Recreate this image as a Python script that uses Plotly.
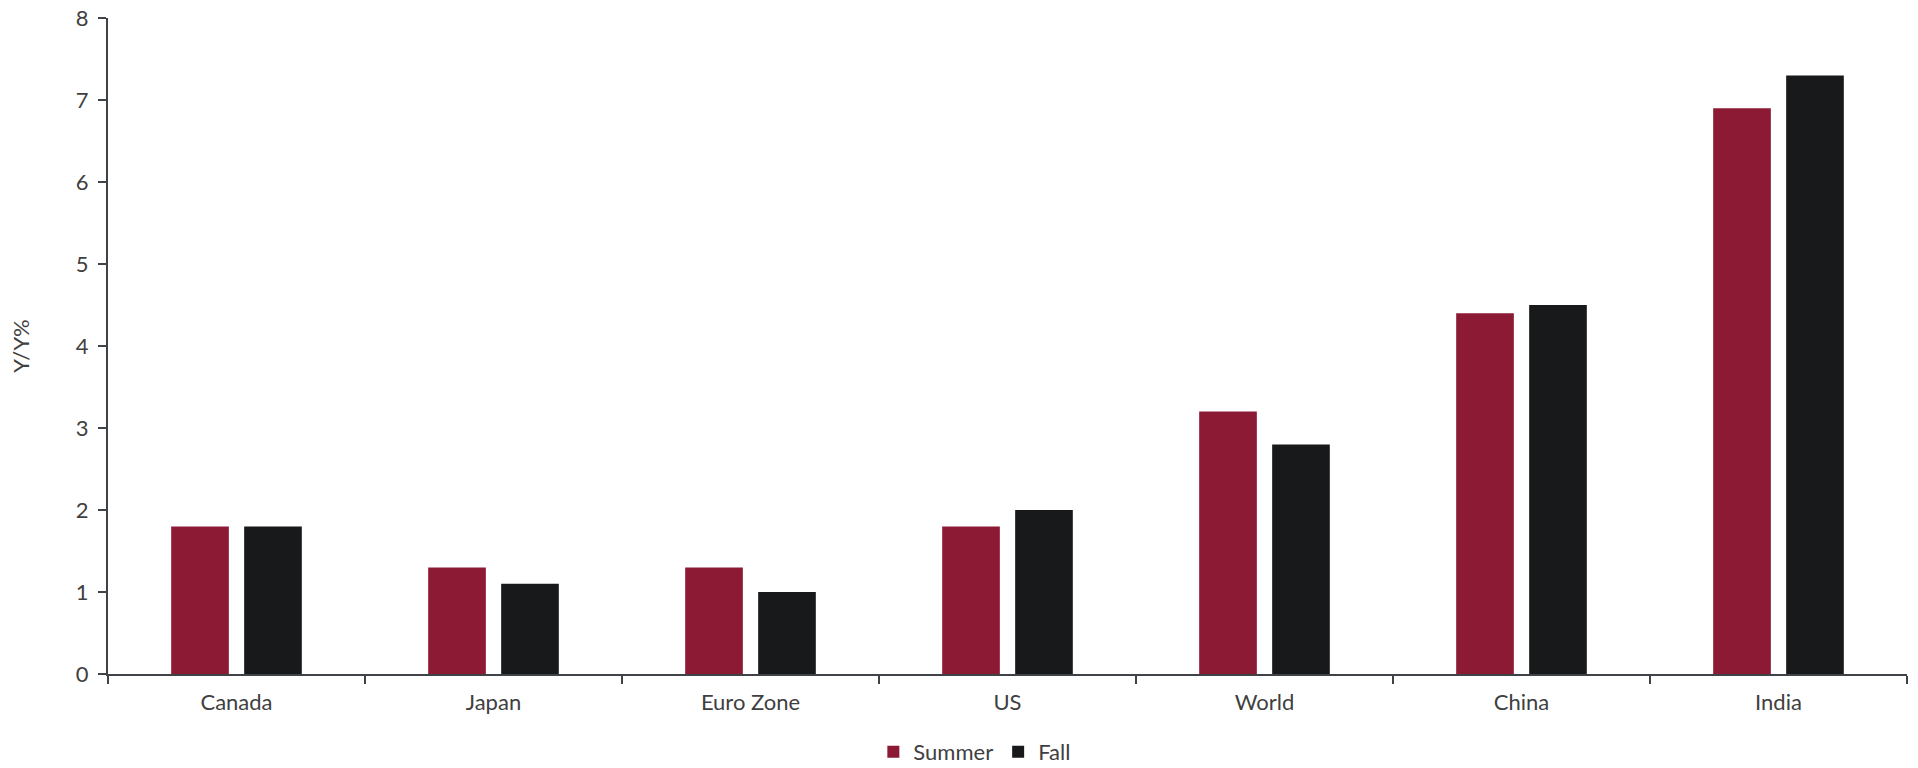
import plotly.graph_objects as go

# Real GDP growth forecasts by region
regions = ["Canada", "Japan", "Euro Zone", "US", "World", "China", "India"]
summer = [1.8, 1.3, 1.3, 1.8, 3.2, 4.4, 6.9]
fall = [1.8, 1.1, 1.0, 2.0, 2.8, 4.5, 7.3]
y_ticks = [0, 1, 2, 3, 4, 5, 6, 7, 8]

RED = "#8C1A34"
BLACK = "#18191B"
AXIS = "#3F4246"
TEXT = "#404040"
FONT = "Lato, 'Open Sans', sans-serif"

fig = go.Figure()
fig.add_trace(go.Bar(x=regions, y=summer, name="Summer", marker=dict(color=RED, line=dict(width=0))))
fig.add_trace(go.Bar(x=regions, y=fall, name="Fall", marker=dict(color=BLACK, line=dict(width=0))))

fig.update_layout(
    width=1918,
    height=768,
    margin=dict(l=108, r=11, t=18, b=94, autoexpand=False),
    paper_bgcolor="white",
    plot_bgcolor="white",
    barmode="group",
    bargap=0.432,
    bargroupgap=0.21,
    font=dict(family=FONT, size=22, color=TEXT),
    showlegend=True,
    legend=dict(
        orientation="h",
        x=0.508,
        xanchor="center",
        xref="container",
        y=0.021,
        yanchor="middle",
        yref="container",
        itemwidth=30,
        bgcolor="rgba(0,0,0,0)",
        font=dict(size=22, color=TEXT),
    ),
)

fig.update_xaxes(
    showline=True,
    linecolor=AXIS,
    linewidth=2,
    ticks="outside",
    tickson="boundaries",
    ticklen=8,
    tickwidth=2,
    tickcolor=AXIS,
    showgrid=False,
    ticklabelstandoff=8,
    tickfont=dict(size=22, color=TEXT),
)

fig.update_yaxes(
    range=[0, 8],
    tickvals=y_ticks,
    showline=True,
    linecolor=AXIS,
    linewidth=2,
    ticks="outside",
    ticklen=8,
    tickwidth=2,
    tickcolor=AXIS,
    showgrid=False,
    zeroline=False,
    ticklabelstandoff=5,
    tickfont=dict(size=22, color=TEXT),
    title=dict(text="Y/Y%", font=dict(size=22, color=TEXT), standoff=40),
)

fig.write_html("out.html")
